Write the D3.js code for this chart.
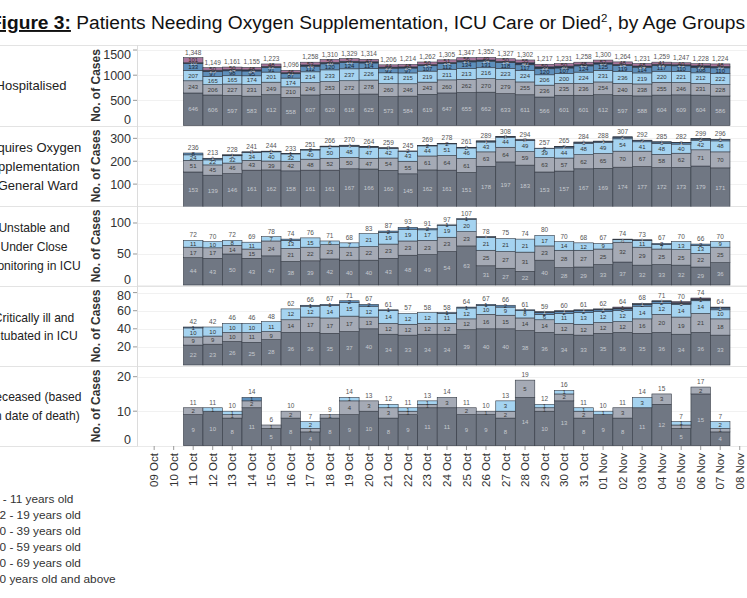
<!DOCTYPE html>
<html>
<head>
<meta charset="utf-8">
<script src="https://cdn.jsdelivr.net/npm/d3@7"></script>
<style>
body { margin: 0; background: #fff; }
</style>
</head>
<body>
<div id="chart"></div>
<script>
// x axis categories (09 Oct - 08 Nov), bars only for 11 Oct - 07 Nov
var dates = ["09 Oct","10 Oct","11 Oct","12 Oct","13 Oct","14 Oct","15 Oct","16 Oct","17 Oct","18 Oct",
  "19 Oct","20 Oct","21 Oct","22 Oct","23 Oct","24 Oct","25 Oct","26 Oct","27 Oct","28 Oct","29 Oct",
  "30 Oct","31 Oct","01 Nov","02 Nov","03 Nov","04 Nov","05 Nov","06 Nov","07 Nov","08 Nov"];
var barDates = dates.slice(2, 30);

var ageGroups = ["0 - 11 years old","12 - 19 years old","20 - 39 years old","40 - 59 years old",
  "60 - 69 years old","70 years old and above"];
var ageColors = ["#a9769c","#27364f","#5e8fbb","#a5d3f0","#a5aab5","#707783"];

// Hospitalised
var hosp0  = [101,50,50,48,48,46,53,56,52,47,44,48,50,51,56,49,50,55,50,50,48,52,48,48,41,40,41,48];
var hosp12 = [18,25,24,24,22,21,26,28,26,24,22,24,24,24,27,24,24,40,39,38,25,26,24,24,22,21,32,30];
var hosp20 = [133,97,98,95,91,87,112,120,124,114,93,97,107,112,134,131,118,117,120,107,124,125,119,114,117,110,108,110];
var hosp40 = [207,165,165,174,201,174,214,233,237,226,214,215,219,211,213,216,223,224,206,200,224,231,236,219,220,221,212,222];
var hosp60 = [243,206,227,231,249,210,246,253,272,278,260,246,243,260,262,270,279,255,236,235,236,254,240,238,255,246,231,228];
var hosp70 = [646,606,597,583,612,558,607,620,618,625,573,584,619,647,655,662,633,611,566,601,601,612,597,588,604,609,604,586];

// Requires oxygen supplementation in general ward
var oxy0  = [0,0,0,0,0,0,0,0,0,0,0,0,0,0,0,0,0,0,0,0,0,0,0,0,0,0,0,0];
var oxy12 = [0,1,1,1,1,0,0,1,1,1,1,0,0,0,1,1,1,1,0,2,1,1,2,2,1,1,2,1];
var oxy20 = [8,6,3,2,2,1,2,2,4,3,2,2,2,2,2,4,2,2,2,5,6,4,7,5,6,6,5,6];
var oxy40 = [24,22,32,34,40,32,40,50,48,47,42,43,44,51,46,43,44,49,39,44,48,49,54,41,48,40,42,48];
var oxy60 = [51,45,46,43,39,42,48,52,50,47,54,55,61,64,61,63,64,59,63,57,62,65,70,67,58,62,71,70];
var oxy70 = [153,139,146,161,162,158,161,161,167,166,160,145,162,161,151,178,197,183,153,157,167,169,174,177,172,173,179,171];

// Unstable and under close monitoring in ICU
var icu0  = [0,0,0,0,0,0,0,0,0,0,0,0,0,0,0,0,0,0,0,0,0,0,0,0,0,0,0,0];
var icu12 = [0,0,0,0,0,0,0,0,0,0,0,0,0,0,0,1,0,0,0,0,0,0,1,1,0,0,0,0];
var icu20 = [0,0,0,0,0,2,0,0,0,0,2,3,2,1,1,0,0,0,0,0,0,0,0,0,2,0,2,0];
var icu40 = [11,10,8,11,7,13,15,6,7,21,19,19,17,19,20,21,21,21,17,14,12,9,4,11,7,13,13,9];
var icu60 = [17,17,14,15,24,21,22,23,21,22,23,23,23,23,23,25,27,31,23,28,27,25,32,29,25,25,22,25];
var icu70 = [44,43,50,43,47,38,39,42,40,40,43,48,49,54,63,31,27,22,40,28,29,33,37,32,33,32,29,36];

// Critically ill and intubated in ICU
var intub0  = [0,0,0,0,0,0,0,0,0,0,0,0,0,0,0,0,0,0,0,0,0,0,1,0,0,1,1,0];
var intub12 = [0,0,0,0,0,0,0,0,0,0,0,0,0,0,0,0,0,0,1,1,1,1,1,1,1,1,1,1];
var intub20 = [1,0,0,0,0,0,1,1,2,2,1,0,0,1,1,1,2,1,2,2,2,2,2,2,2,1,1,2];
var intub40 = [10,10,10,10,11,12,12,14,15,12,14,12,12,11,12,10,9,8,6,11,13,12,12,14,12,14,14,10];
var intub60 = [9,9,10,11,9,14,17,17,17,13,12,12,12,12,12,16,15,14,14,12,12,12,12,16,20,19,21,18];
var intub70 = [22,23,26,25,28,36,36,35,37,40,34,33,34,34,39,40,40,38,36,34,33,35,36,35,36,34,36,33];

// Deceased (based on date of death)
var dead0  = [0,0,0,0,0,0,0,0,0,0,0,0,0,0,0,0,0,0,0,0,0,0,0,0,0,0,0,0];
var dead12 = [0,0,0,0,0,0,0,0,0,0,0,0,0,0,0,0,0,0,0,0,0,0,0,0,0,0,0,0];
var dead20 = [0,0,0,1,0,0,0,0,0,0,0,0,0,0,0,0,0,0,0,0,0,0,0,0,0,0,0,0];
var dead40 = [0,1,1,0,0,0,2,0,1,0,1,1,1,0,0,0,3,0,1,1,1,1,0,3,0,1,0,2];
var dead60 = [2,0,1,2,1,2,1,1,4,3,3,1,1,3,2,1,2,5,1,2,2,0,3,0,3,1,2,1];
var dead70 = [9,10,8,11,5,8,4,8,9,10,8,9,11,11,9,9,8,14,10,13,8,9,8,11,12,5,15,4];

var panelNames = [["Hospitalised"],
  ["Requires Oxygen","Supplementation","in General Ward"],
  ["Unstable and","Under Close","Monitoring in ICU"],
  ["Critically ill and","Intubated in ICU"],
  ["Deceased (based","on date of death)"]];
var panelTicks = [[0,500,1000,1500],[100,200,300],[0,50,100],[20,40,60,80],[0,10,20]];
var panelSeries = [
  [hosp0,hosp12,hosp20,hosp40,hosp60,hosp70],
  [oxy0,oxy12,oxy20,oxy40,oxy60,oxy70],
  [icu0,icu12,icu20,icu40,icu60,icu70],
  [intub0,intub12,intub20,intub40,intub60,intub70],
  [dead0,dead12,dead20,dead40,dead60,dead70]];

// layout
var panelTop = [45,126,206,286,366],
    panelBottom = [126,206,286,366,446],
    zeroY = [125.5,207,285,365,445.7],
    maxY = [1600,354,127.4,87.3,23.1];
var labelFill = ["#2a2a2a","#c8ccd2","#1d2633","#333333","#3a3a3a","#c6cad0"];

var svg = d3.select("#chart")
  .append("svg")
    .attr("width", 747)
    .attr("height", 598)
    .style("font-family", "'Liberation Sans', Arial, sans-serif");

var x = d3.scaleBand()
  .domain(dates)
  .range([144.4, 749.5])
  .padding(0);

var title = svg.append("text")
  .attr("x", 745)
  .attr("y", 29)
  .attr("text-anchor", "end")
  .attr("font-size", 19.2)
  .attr("fill", "#111");
title.append("tspan").attr("font-weight", "bold").attr("text-decoration", "underline").text("Figure 3:");
title.append("tspan").text(" Patients Needing Oxygen Supplementation, ICU Care or Died");
title.append("tspan").attr("font-size", 11.5).attr("dy", -7).text("2");
title.append("tspan").attr("dy", 7).text(", by Age Groups");

// panel separators and left axis line
svg.selectAll("line.sep")
  .data(panelTop.concat([446]))
  .enter().append("line")
    .attr("class", "sep")
    .attr("x1", 0).attr("x2", 747)
    .attr("y1", function(d) { return d + 0.5; })
    .attr("y2", function(d) { return d + 0.5; })
    .attr("stroke", "#e3e3e3");
svg.append("line")
  .attr("x1", 137.5).attr("x2", 137.5)
  .attr("y1", 45).attr("y2", 446)
  .attr("stroke", "#dcdcdc");

var keys = ageGroups.slice().reverse();   // stack 70+ at the bottom
var fmt = d3.format(",");

panelNames.forEach(function(names, p) {
  var rows = barDates.map(function(d, i) {
    var row = {date: d};
    ageGroups.forEach(function(g, k) { row[g] = panelSeries[p][k][i]; });
    return row;
  });
  var stacked = d3.stack().keys(keys)(rows);

  var y = d3.scaleLinear()
    .domain([0, maxY[p]])
    .range([zeroY[p], panelTop[p]]);

  var clipId = "clip" + p;
  svg.append("clipPath").attr("id", clipId)
    .append("rect")
      .attr("x", 138).attr("y", panelTop[p] + 1)
      .attr("width", 612).attr("height", panelBottom[p] - panelTop[p] - 0.5);

  var g = svg.append("g").attr("clip-path", "url(#" + clipId + ")");

  // faint gridlines
  g.selectAll("line.grid")
    .data(panelTicks[p])
    .enter().append("line")
      .attr("x1", 138).attr("x2", 747)
      .attr("y1", function(d) { return Math.round(y(d)) + 0.5; })
      .attr("y2", function(d) { return Math.round(y(d)) + 0.5; })
      .attr("stroke", "#f1f1f1");

  var layer = g.selectAll("g.layer")
    .data(stacked)
    .enter().append("g")
      .attr("fill", function(d) { return ageColors[ageGroups.indexOf(d.key)]; });

  layer.selectAll("rect")
    .data(function(d) { return d.filter(function(s) { return s[1] - s[0] > 0; }); })
    .enter().append("rect")
      .attr("x", function(d) { return x(d.data.date); })
      .attr("y", function(d) { return y(d[1]); })
      .attr("width", x.bandwidth())
      .attr("height", function(d) { return y(d[0]) - y(d[1]); })
      .attr("stroke", "#343a44")
      .attr("stroke-width", 0.6);

  layer.selectAll("text")
    .data(function(d) {
      var k = ageGroups.indexOf(d.key);
      return d.filter(function(s) { return s[1] - s[0] > 0; })
        .map(function(s) { return {s: s, k: k}; });
    })
    .enter().append("text")
      .attr("x", function(d) { return x(d.s.data.date) + x.bandwidth() / 2; })
      .attr("y", function(d) { return (y(d.s[0]) + y(d.s[1])) / 2; })
      .attr("dy", "0.35em")
      .attr("text-anchor", "middle")
      .attr("font-size", 6)
      .attr("fill", function(d) { return labelFill[d.k]; })
      .text(function(d) { return d.s[1] - d.s[0]; });

  // totals above bars
  var top = stacked[stacked.length - 1];
  svg.append("g").selectAll("text")
    .data(top)
    .enter().append("text")
      .attr("x", function(d) { return x(d.data.date) + x.bandwidth() / 2; })
      .attr("y", function(d) { return y(d[1]) - 3; })
      .attr("text-anchor", "middle")
      .attr("font-size", 6.5)
      .attr("fill", "#555")
      .text(function(d) { return fmt(d[1]); });

  // y ticks
  var ticks = svg.append("g");
  ticks.selectAll("line")
    .data(panelTicks[p].filter(function(t) { return y(t) < panelBottom[p] - 1; }))
    .enter().append("line")
      .attr("x1", 133).attr("x2", 137)
      .attr("y1", function(d) { return y(d); })
      .attr("y2", function(d) { return y(d); })
      .attr("stroke", "#999");
  ticks.selectAll("text")
    .data(panelTicks[p])
    .enter().append("text")
      .attr("x", 131)
      .attr("y", function(d) {
        return Math.max(panelTop[p] + 9, Math.min(panelBottom[p] - 7, y(d)));
      })
      .attr("dy", "0.36em")
      .attr("text-anchor", "end")
      .attr("font-size", 12.5)
      .attr("fill", "#333")
      .text(function(d) { return d; });

  var mid = (panelTop[p] + panelBottom[p]) / 2;
  svg.append("text")
    .attr("transform", "translate(100," + mid + ") rotate(-90)")
    .attr("text-anchor", "middle")
    .attr("font-size", 12)
    .attr("font-weight", "bold")
    .attr("fill", "#333")
    .text("No. of Cases");

  // row header, slightly condensed for the ICU / deceased rows
  var narrow = p >= 2;
  var lh = p == 3 ? 18 : 19;
  svg.append("g").selectAll("text")
    .data(names)
    .enter().append("text")
      .attr("transform", function(d, i) {
        var ty = mid + (i - (names.length - 1) / 2) * lh;
        return "translate(" + (narrow ? 34 : 31) + "," + ty + ")" + (narrow ? " scale(0.93,1)" : "");
      })
      .attr("dy", "0.35em")
      .attr("text-anchor", "middle")
      .attr("font-size", 13)
      .attr("fill", "#222")
      .text(function(d) { return d; });
});

// x axis
var xa = svg.append("g");
xa.selectAll("line")
  .data(dates)
  .enter().append("line")
    .attr("x1", function(d) { return x(d) + x.bandwidth() / 2; })
    .attr("x2", function(d) { return x(d) + x.bandwidth() / 2; })
    .attr("y1", 446).attr("y2", 450)
    .attr("stroke", "#999");
xa.selectAll("text")
  .data(dates)
  .enter().append("text")
    .attr("transform", function(d) {
      return "translate(" + (x(d) + x.bandwidth() / 2) + ",453) rotate(-90)";
    })
    .attr("dy", "0.35em")
    .attr("text-anchor", "end")
    .attr("font-size", 11.5)
    .attr("fill", "#333")
    .text(function(d) { return d; });

// legend (swatches fall off the left edge)
svg.append("g").selectAll("text")
  .data(ageGroups)
  .enter().append("text")
    .attr("x", -7)
    .attr("y", function(d, i) { return 499 + i * 16; })
    .attr("dy", "0.35em")
    .attr("font-size", 11.8)
    .attr("fill", "#333")
    .text(function(d) { return d; });
</script>
</body>
</html>
